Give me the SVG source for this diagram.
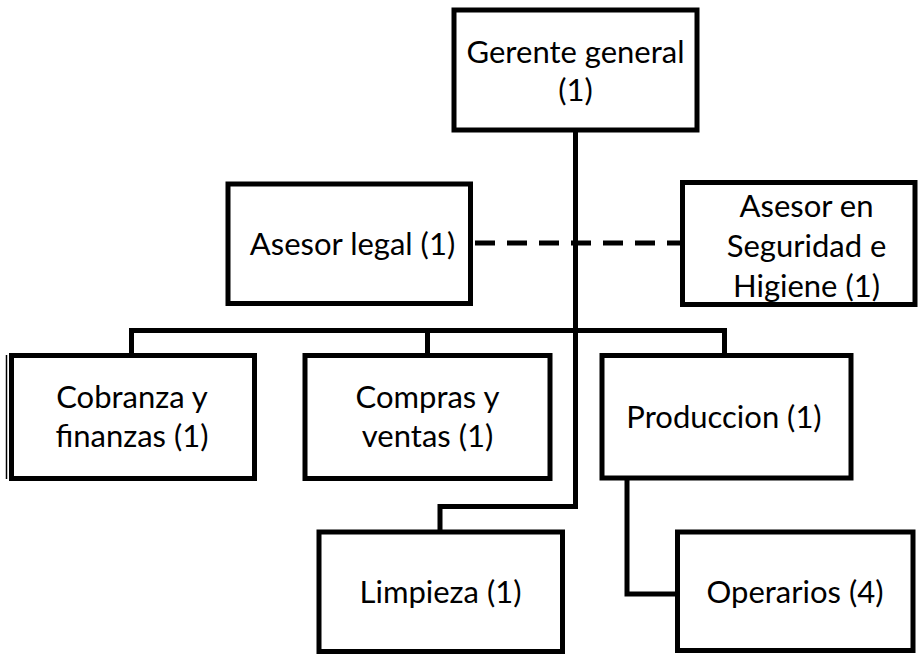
<svg xmlns="http://www.w3.org/2000/svg" width="918" height="655" viewBox="0 0 918 655">
  <style>
    .box { fill: #ffffff; stroke: #000000; stroke-width: 5; }
    .wire { fill: none; stroke: #000000; stroke-width: 5; }
    .dash { fill: none; stroke: #000000; stroke-width: 5; stroke-dasharray: 20 12; }
    .thin { fill: none; stroke: #000000; stroke-width: 1.5; }
    text { font-family: "Lato", "Open Sans", "Liberation Sans", sans-serif; font-size: 31px; fill: #000000; text-anchor: middle; }
  </style>
  <rect x="0" y="0" width="918" height="655" fill="#ffffff"/>

  <!-- connectors -->
  <g id="connectors">
    <path class="wire" d="M575.5 130 V506.5 H440 V532"/>
    <path class="wire" d="M131.5 355 V330.5 H724.5 V355"/>
    <path class="wire" d="M427.5 330.5 V355"/>
    <path class="wire" d="M627 478 V594 H677.5"/>
    <path class="dash" d="M475 243 H680"/>
  </g>

  <g id="gerente">
    <rect class="box" x="454" y="10" width="243" height="120"/>
    <text x="575.5" y="63">Gerente general</text>
    <text x="575.5" y="101">(1)</text>
  </g>

  <g id="asesor-legal">
    <rect class="box" x="228" y="184" width="242.5" height="119.5"/>
    <text x="352.5" y="255">Asesor legal (1)</text>
  </g>

  <g id="asesor-seguridad">
    <rect class="box" x="682.5" y="182.5" width="232.5" height="122"/>
    <text x="806.5" y="217">Asesor en</text>
    <text x="806.5" y="257">Seguridad e</text>
    <text x="806.5" y="297">Higiene (1)</text>
  </g>

  <g id="cobranza">
    <line class="thin" x1="6.5" y1="355" x2="6.5" y2="479"/>
    <rect class="box" x="11.5" y="355.5" width="243" height="123"/>
    <text x="132" y="408">Cobranza y</text>
    <text x="132" y="447">finanzas (1)</text>
  </g>

  <g id="compras">
    <rect class="box" x="305" y="355.5" width="245" height="123"/>
    <text x="427.5" y="408">Compras y</text>
    <text x="427.5" y="447">ventas (1)</text>
  </g>

  <g id="produccion">
    <rect class="box" x="602" y="355.5" width="249" height="122.5"/>
    <text x="724" y="428">Produccion (1)</text>
  </g>

  <g id="limpieza">
    <rect class="box" x="319" y="532" width="243.5" height="119.5"/>
    <text x="440.5" y="603">Limpieza (1)</text>
  </g>

  <g id="operarios">
    <rect class="box" x="677.5" y="532" width="235.5" height="118.5"/>
    <text x="795" y="603">Operarios (4)</text>
  </g>
</svg>
